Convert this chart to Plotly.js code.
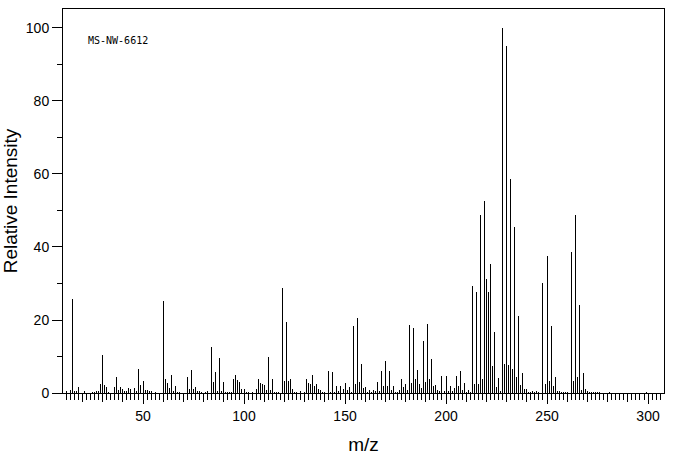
<!DOCTYPE html>
<html>
<head>
<meta charset="utf-8">
<script src="https://cdn.plot.ly/plotly-3.0.1.min.js"></script>
<style>
html,body{margin:0;padding:0;background:#fff;}
#chart{width:676px;height:455px;}
</style>
</head>
<body>
<div id="chart"></div>
<script>
// m/z values and relative intensities
const mz = [
 12,14,15,16,17,18,21,25,26,27,28,29,30,31,32,33,
 36,37,38,39,40,41,42,43,44,46,47,48,49,50,51,52,53,54,56,
 60,61,62,63,64,65,66,67,68,
 72,73,74,75,76,77,78,79,81,82,
 84,85,86,87,88,89,90,91,92,93,94,95,96,97,98,99,100,101,102,104,
 106,107,108,109,110,111,112,113,114,115,116,117,
 119,120,121,122,123,124,125,126,128,130,131,132,133,134,135,136,137,138,139,140,
 142,143,144,145,146,147,148,149,150,151,152,153,154,155,156,157,158,
 159,160,161,162,163,164,165,166,167,168,169,170,171,172,173,174,175,176,177,178,179,180,
 181,182,183,184,185,186,187,188,189,190,191,192,193,194,195,196,197,198,199,200,
 201,202,203,204,205,206,207,208,209,210,211,212,
 213,214,215,216,217,218,219,220,221,222,223,224,225,226,227,228,229,230,231,232,
 233,234,235,236,237,238,239,240,241,242,243,244,245,246,
 248,249,250,251,252,253,254,255,256,257,258,259,260,
 262,263,264,265,266,267,268,269,270,271,272,273,274,275,276,281,299
];
const intensity = [
 0.6,0.9,25.8,0.5,0.6,1.6,0.6,0.3,0.3,0.5,0.6,2.5,10.5,2.3,1.7,0.3,
 1.6,4.4,0.8,1.6,1.0,0.5,0.5,1.4,1.0,1.5,0.6,6.7,2.3,3.4,0.9,0.9,0.6,0.5,0.3,
 25.3,3.7,2.7,1.4,4.8,0.5,2.0,0.3,0.3,
 4.5,1.2,6.2,1.0,1.6,0.6,0.6,0.3,0.3,0.5,
 12.7,3.1,5.8,0.6,9.7,0.6,3.1,0.3,0.3,0.3,0.3,3.7,5.0,3.5,3.1,1.2,1.2,0.3,0.3,0.3,
 1.2,3.7,2.8,2.6,2.3,0.9,10.0,0.9,3.7,0.3,0.3,0.3,
 28.9,3.4,19.4,3.4,3.7,1.2,0.3,0.3,0.6,0.3,3.7,2.8,2.6,5.0,2.0,2.6,1.2,0.9,0.3,0.3,
 6.1,0.3,5.8,0.3,2.0,0.6,2.0,1.2,2.7,0.9,1.6,0.3,18.4,2.6,20.5,3.1,8.0,
 1.5,1.7,0.3,0.9,0.3,0.9,0.6,3.0,0.6,5.9,1.9,8.9,1.9,6.1,0.9,2.0,0.3,0.3,0.9,3.9,1.7,2.6,
 0.9,18.7,2.8,17.8,3.9,6.4,2.6,1.3,14.3,3.1,19.0,3.9,9.4,2.0,2.3,0.9,0.6,4.7,0.6,4.7,
 0.6,2.0,0.6,1.5,4.7,1.8,6.1,0.9,2.8,0.3,0.9,0.3,
 29.4,2.6,27.8,2.6,48.9,3.7,52.7,31.3,27.8,35.4,7.5,16.8,1.7,4.2,0.6,100,8.0,95.0,7.8,58.7,
 6.5,45.6,4.5,21.2,2.2,5.6,1.0,1.2,0.3,0.3,0.6,0.3,0.6,0.3,
 30.0,2.6,37.6,3.2,18.3,1.8,4.5,0.6,0.6,0.3,0.3,0.3,0.3,
 38.5,3.4,48.8,4.4,24.2,0.8,5.6,1.0,0.6,0.4,0.4,0.4,0.4,0.4,0.4,0.3,0.3
];
const xTickVals = [50,100,150,200,250,300];
const yTickVals = [0,20,40,60,80,100];
const specId = "MS-NW-6612";

const fontFam = "Liberation Sans, Arial, sans-serif";

const W = 676, H = 455;
const margin = {l: 63, r: 12, t: 9, b: 62, pad: 0};
const xr = [10.4, 307.9];
// bar width equal to exactly one screen pixel in data units
const onePx = (xr[1] - xr[0]) / (W - margin.l - margin.r);

const trace = {
  type: 'bar',
  x: mz,
  y: intensity,
  width: onePx,
  marker: {color: '#000', line: {width: 0}},
  hoverinfo: 'x+y',
  xaxis: 'x', yaxis: 'y'
};
// invisible helper trace so the second x axis (10-unit ticks) is drawn
const helper = {
  type: 'scatter', mode: 'markers', x: [mz[0]], y: [0],
  marker: {opacity: 0}, xaxis: 'x2', yaxis: 'y', hoverinfo: 'skip', showlegend: false
};

const layout = {
  width: W, height: H,
  margin: margin,
  paper_bgcolor: '#fff', plot_bgcolor: '#fff',
  showlegend: false,
  bargap: 0,
  font: {family: fontFam, color: '#000', size: 14},
  xaxis: {
    range: xr, showgrid: false, zeroline: false,
    showline: true, linecolor: '#000', linewidth: 1, mirror: true,
    ticks: 'outside', ticklen: 10, tickwidth: 1, tickcolor: '#000',
    tickmode: 'array', tickvals: xTickVals, ticktext: xTickVals.map(String),
    tickfont: {family: fontFam, size: 14, color: '#000'},
    minor: {dtick: 2, tick0: 0, ticklen: 6, tickwidth: 1, tickcolor: '#000', ticks: 'outside', showgrid: false},
    title: {text: 'm/z', font: {family: fontFam, size: 19, color: '#000'}, standoff: 14},
    fixedrange: true
  },
  xaxis2: {
    range: xr, overlaying: 'x', anchor: 'y', side: 'bottom',
    showgrid: false, zeroline: false, showline: false,
    ticks: 'outside', ticklen: 8, tickwidth: 1, tickcolor: '#000',
    dtick: 10, tick0: 0, showticklabels: false, fixedrange: true
  },
  yaxis: {
    range: [0, 105.2], showgrid: false, zeroline: false,
    showline: true, linecolor: '#000', linewidth: 1, mirror: true,
    ticks: 'outside', ticklen: 10, tickwidth: 1, tickcolor: '#000',
    tickmode: 'array', tickvals: yTickVals, ticktext: yTickVals.map(String),
    tickfont: {family: fontFam, size: 14, color: '#000'},
    minor: {dtick: 10, tick0: 0, ticklen: 5, tickwidth: 1, tickcolor: '#000', ticks: 'outside', showgrid: false},
    title: {text: 'Relative Intensity', font: {family: fontFam, size: 19, color: '#000'}, standoff: 10},
    fixedrange: true
  },
  annotations: [{
    text: specId, xref: 'paper', yref: 'paper', x: 0.038, y: 0.917,
    xanchor: 'left', yanchor: 'middle', showarrow: false,
    font: {family: 'DejaVu Sans Mono, monospace', size: 10, color: '#000'}
  }]
};

Plotly.newPlot('chart', [trace, helper], layout, {displayModeBar: false, staticPlot: true});
</script>
</body>
</html>
